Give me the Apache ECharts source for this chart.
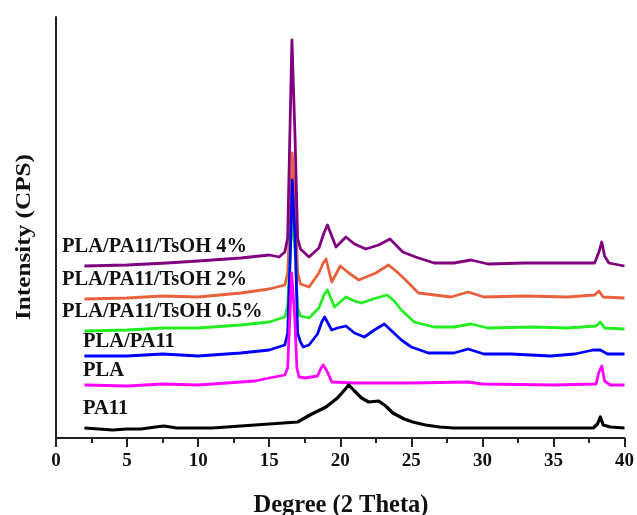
<!DOCTYPE html>
<html>
<head>
<meta charset="utf-8">
<script src="https://cdn.jsdelivr.net/npm/echarts@6/dist/echarts.min.js"></script>
<style>
  html, body { margin: 0; padding: 0; background: #fff; }
  #chart { width: 637px; height: 515px; }
</style>
</head>
<body>
<div id="chart"></div>
<script>
// XRD patterns, [2theta, offset intensity]
const pa11 = [[2,10],[3,9],[4,8],[5,9],[6,9],[7,11],[7.6,12],[8.5,10],[10,10],[11,10],[12,11],[13,12],[14,13],[15,14],[16,15],[17,16],[18,24],[19,31],[19.8,40],[20.3,48],[20.6,53],[21,47],[21.5,40],[22,36],[22.7,37],[23.2,32],[23.7,25],[24.5,19],[25.1,16],[26,13],[27,11],[28,10],[30,10],[32,10],[34,10],[36,10],[37.8,10],[38.1,14],[38.3,21],[38.5,13],[39,11],[40,10]]
const pla = [[2,53],[5,52],[7.5,54],[10,53],[12,55],[14,57],[15,60],[16.1,63],[16.3,70],[16.45,120],[16.58,165],[16.66,165],[16.8,120],[16.95,70],[17.1,61],[17.5,60],[18.4,62],[18.65,70],[18.8,73],[19.1,66],[19.4,56],[21,55],[25,55],[29,56],[30,54],[35,53],[38,54],[38.2,66],[38.4,72],[38.6,57],[39,53],[40,53]]
const plaPa11 = [[2,82],[5,82],[7.5,84],[10,82],[13,85],[15,88],[16.1,93],[16.3,105],[16.5,190],[16.62,258],[16.7,258],[16.85,190],[17.0,105],[17.2,96],[17.4,91],[17.8,93],[18.4,104],[18.7,116],[18.9,121],[19.4,108],[19.8,110],[20.4,112],[21,105],[21.7,101],[22.4,108],[23.1,114],[23.7,106],[24.3,98],[25,91],[26.2,85],[28,85],[29,89],[30.1,84],[32,84],[34.8,82],[36.5,84],[37.8,88],[38.3,88],[38.8,84],[40,84]]
const tsoh05 = [[2,107],[5,108],[7.5,110],[10,110],[13,113],[15,116],[16.1,121],[16.3,132],[16.5,190],[16.62,225],[16.7,225],[16.85,180],[17.0,130],[17.2,122],[17.8,120],[18.5,130],[18.85,143],[19.1,148],[19.6,131],[20.4,141],[21,137],[21.5,135],[22.3,139],[23.3,143],[23.8,137],[24.3,128],[25.2,116],[26.6,111],[28,111],[29.2,114],[30.4,110],[33.6,111],[36,110],[38,112],[38.3,116],[38.6,110],[40,109]]
const tsoh2 = [[2,139],[5,140],[7.5,142],[10,141],[13,145],[15,149],[16.1,153],[16.3,165],[16.5,230],[16.62,285],[16.7,285],[16.85,230],[17.0,165],[17.2,154],[17.8,151],[18.5,165],[18.8,175],[19,179],[19.4,156],[20,172],[20.6,165],[21.3,158],[22.5,165],[23.4,173],[24,166],[24.6,158],[25.5,145],[27.8,141],[29,146],[30.1,141],[33,142],[36,141],[37.9,143],[38.2,147],[38.5,141],[40,140]]
const tsoh4 = [[2,172],[5,173],[7.8,175],[10,177],[13,180],[15,183],[15.7,181],[16.1,186],[16.3,200],[16.48,320],[16.6,398],[16.68,398],[16.82,300],[17.0,200],[17.2,189],[17.8,181],[18.5,190],[18.85,205],[19.1,213],[19.7,191],[20.4,201],[21,194],[21.8,189],[22.7,193],[23.5,199],[24.4,186],[25.3,181],[26.6,175],[28,175],[29.2,178],[30.4,174],[33,175],[36,175],[37.9,175],[38.2,186],[38.4,196],[38.6,182],[38.9,175],[40,172]]

const seriesNames = ['PA11', 'PLA', 'PLA/PA11', 'PLA/PA11/TsOH 0.5%', 'PLA/PA11/TsOH 2%', 'PLA/PA11/TsOH 4%']
const seriesData = [pa11, pla, plaPa11, tsoh05, tsoh2, tsoh4]
const seriesColors = ['#000000', '#ff00ff', '#0000ff', '#22ee22', '#e8603c', '#800080']
const drawOrder = [4, 5, 3, 2, 1, 0]

const xTicks = [0, 40, 5]

const chart = echarts.init(document.getElementById('chart'))

const serif = '"Liberation Serif", "Times New Roman", serif'

// series labels sit at the left, above each trace
const labelPos = [[83, 409], [83, 371], [83, 342], [62, 312], [62, 280], [62, 247]]

const option = {
  animation: false,
  backgroundColor: '#fff',
  grid: { left: 56, right: 11, top: 17, bottom: 77 },
  xAxis: {
    type: 'value',
    min: xTicks[0],
    max: xTicks[1],
    interval: xTicks[2],
    axisLine: { show: true, onZero: false, lineStyle: { color: '#222', width: 2 } },
    axisTick: { show: true, length: 9, lineStyle: { color: '#222', width: 2 } },
    minorTick: { show: true, splitNumber: 2, length: 5, lineStyle: { color: '#222', width: 2 } },
    splitLine: { show: false },
    axisLabel: { color: '#111', fontFamily: serif, fontWeight: 'bold', fontSize: 19, margin: 14 }
  },
  yAxis: {
    type: 'value',
    min: 0,
    max: 421,
    axisLine: { show: true, onZero: false, lineStyle: { color: '#222', width: 2 } },
    axisTick: { show: false },
    axisLabel: { show: false },
    splitLine: { show: false }
  },
  graphic: [
    {
      type: 'text', x: 341, y: 506,
      style: { text: 'Degree (2 Theta)', fill: '#111', font: 'bold 24.5px ' + serif, textAlign: 'center', textVerticalAlign: 'middle' }
    },
    {
      type: 'text', x: 25, y: 237, rotation: Math.PI / 2, scaleX: 1.2,
      style: { text: 'Intensity (CPS)', fill: '#111', font: 'bold 21px ' + serif, textAlign: 'center', textVerticalAlign: 'middle' }
    }
  ].concat(seriesNames.map((n, i) => ({
    type: 'text', x: labelPos[i][0], y: labelPos[i][1],
    style: { text: n, fill: '#111', font: 'bold 20.5px ' + serif, textAlign: 'left', textVerticalAlign: 'middle' }
  }))),
  series: drawOrder.map(i => ({
    name: seriesNames[i],
    type: 'line',
    data: seriesData[i],
    showSymbol: false,
    z: 2 + drawOrder.indexOf(i),
    lineStyle: { color: seriesColors[i], width: i === 0 ? 3.2 : 2.8, join: 'round' }
  }))
}

chart.setOption(option)
</script>
</body>
</html>
